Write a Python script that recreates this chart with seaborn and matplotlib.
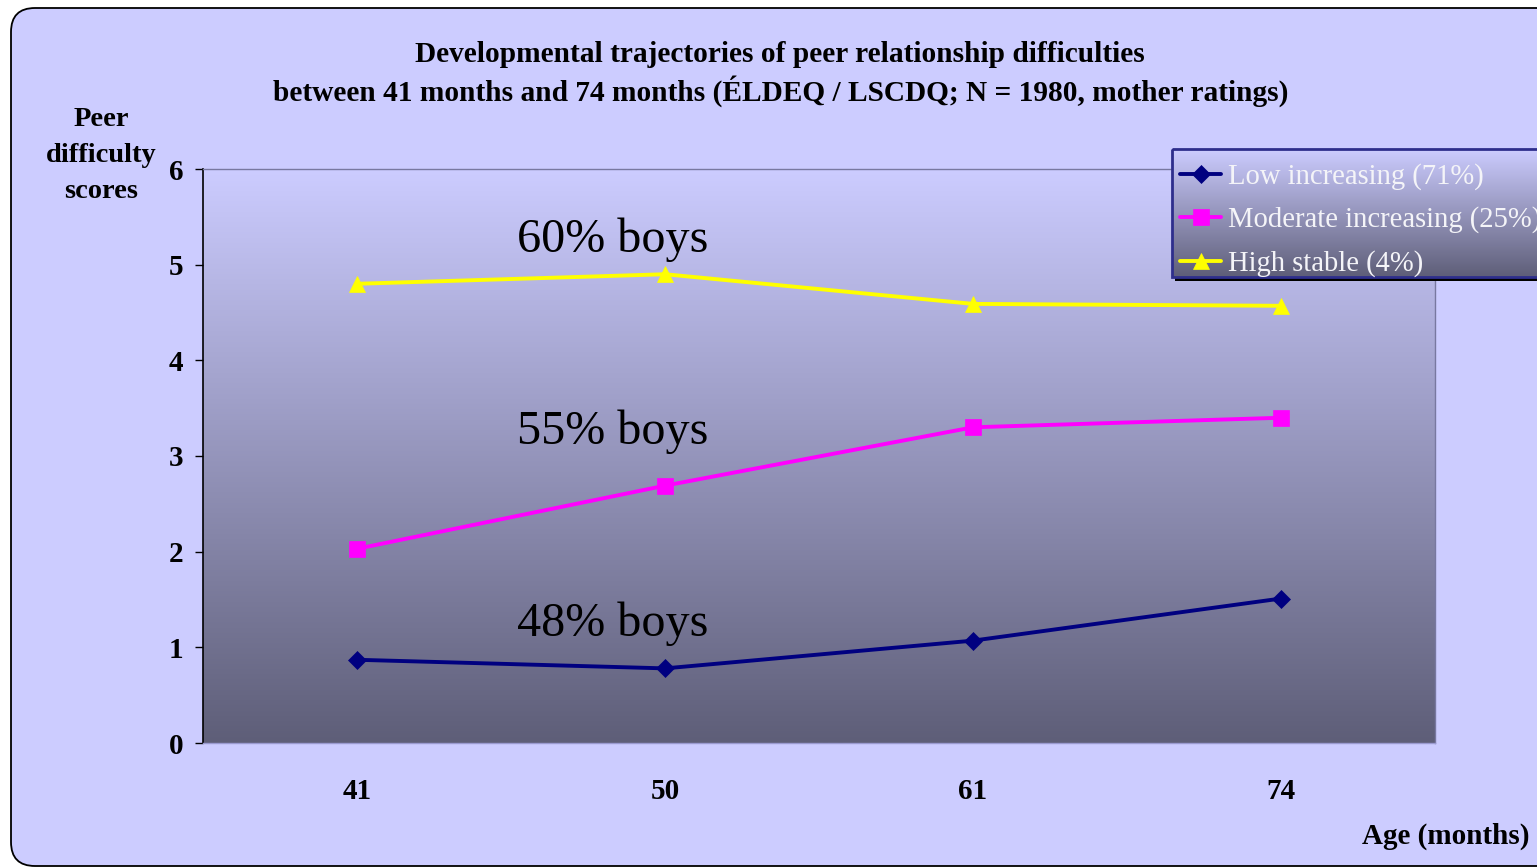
import numpy as np
import pandas as pd
import matplotlib
matplotlib.use("Agg")
import matplotlib.pyplot as plt
from matplotlib.lines import Line2D
from matplotlib.patches import FancyBboxPatch, Rectangle
import seaborn as sns

# ---- data -------------------------------------------------------------
ages = ["41", "50", "61", "74"]
low_increasing = [0.87, 0.78, 1.07, 1.51]
moderate_increasing = [2.03, 2.69, 3.30, 3.40]
high_stable = [4.80, 4.90, 4.59, 4.57]

group_labels = ["Low increasing (71%)", "Moderate increasing (25%)", "High stable (4%)"]
boys_labels = ["48% boys", "55% boys", "60% boys"]
boys_label_y = [1.25, 3.25, 5.26]
y_ticks = [0, 1, 2, 3, 4, 5, 6]

title_lines = ["Developmental trajectories of peer relationship difficulties",
               "between 41 months and 74 months (ÉLDEQ / LSCDQ; N = 1980, mother ratings)"]
y_label_lines = ["Peer", "difficulty", "scores"]
x_label = "Age (months)"

# ---- styling ----------------------------------------------------------
colors = ["#000080", "#FF00FF", "#FFFF00"]
markers = ["D", "s", "^"]
marker_sizes = [9.0, 11.0, 11.5]

sns.set_theme(style="white")
plt.rcParams["font.family"] = ["Liberation Serif", "DejaVu Serif"]
for key in ("text.color", "axes.labelcolor", "xtick.color", "ytick.color"):
    plt.rcParams[key] = "black"

W, H = 1537, 867
fig = plt.figure(figsize=(W / 100, H / 100), dpi=100, facecolor="white")

# rounded lavender panel behind everything (pixel coordinates)
bg = fig.add_axes([0, 0, 1, 1], zorder=0)
bg.set_xlim(0, W)
bg.set_ylim(H, 0)
bg.axis("off")
bg.add_patch(FancyBboxPatch((11, 8), 1600, 858,
                            boxstyle="round,pad=0,rounding_size=24",
                            facecolor="#CCCCFF", edgecolor="black", lw=1.3))

# ---- main plot ---------------------------------------------------------
ax = fig.add_axes([203 / W, 1 - 743 / H, (1435 - 203) / W, (743 - 169) / H], zorder=1)
ax.set_facecolor("none")

top_rgb = np.array([204, 204, 255]) / 255
bot_rgb = np.array([94, 94, 120]) / 255
t = np.linspace(0, 1, 256)[:, None]
grad = top_rgb[None, :] * (1 - t) + bot_rgb[None, :] * t
ax.imshow(grad[:, None, :], extent=(0, 1, 0, 1), transform=ax.transAxes,
          aspect="auto", zorder=0, interpolation="bilinear")

df = pd.DataFrame({
    "age": ages * 3,
    "score": low_increasing + moderate_increasing + high_stable,
    "group": sum([[g] * len(ages) for g in group_labels], []),
})

sns.pointplot(data=df, x="age", y="score", hue="group", order=ages,
              hue_order=group_labels, palette=colors, markers=markers,
              linestyles="-", errorbar=None, ax=ax, legend=False,
              linewidth=2.8, markersize=9)

series_lines = [ln for ln in ax.lines if ln.get_marker() not in (None, "None", "")]
for ln, ms in zip(series_lines, marker_sizes):
    ln.set_markersize(ms)
    ln.set_markeredgewidth(0.5)
    ln.set_zorder(3)

for txt, yv in zip(boys_labels, boys_label_y):
    ax.text(0.83, yv, txt, ha="center", va="center", fontsize=34.7,
            color="black", zorder=4)

ax.set_xlim(-0.5, len(ages) - 0.5)
ax.set_ylim(0, 6)
ax.set_yticks(y_ticks)
ax.set_xlabel("")
ax.set_ylabel("")
ax.tick_params(axis="y", direction="out", length=6, width=1, color="black",
               pad=8, labelsize=21, left=True)
ax.tick_params(axis="x", length=0, pad=25, labelsize=21)
for lab in ax.get_xticklabels() + ax.get_yticklabels():
    lab.set_fontweight("bold")

ax.spines["left"].set_color("black")
ax.spines["left"].set_linewidth(1.2)
for side in ("top", "right"):
    ax.spines[side].set_color("#7878A0")
    ax.spines[side].set_linewidth(1.0)
ax.spines["bottom"].set_color("#9A9AD0")
ax.spines["bottom"].set_linewidth(1.0)

# ---- titles and axis captions ------------------------------------------
fig.text(780 / W, 1 - 55 / H, title_lines[0], ha="center", va="center",
         fontsize=21.2, fontweight="bold")
fig.text(781 / W, 1 - 91 / H, title_lines[1], ha="center", va="center",
         fontsize=21.2, fontweight="bold")
for i, line in enumerate(y_label_lines):
    fig.text(101 / W, 1 - (119 + 36 * i) / H, line, ha="center", va="center",
             fontsize=20.5, fontweight="bold")
fig.text(1530 / W, 1 - 836 / H, x_label, ha="right", va="center",
         fontsize=21, fontweight="bold")

# ---- legend with its own gradient box ----------------------------------
ov = fig.add_axes([0, 0, 1, 1], zorder=3)
ov.set_facecolor("none")
ov.axis("off")
lx0, ly0, lx1, ly1 = 1172, 149, 1600, 277
ov.add_patch(Rectangle((lx0 + 3, ly0 + 4), lx1 - lx0, ly1 - ly0,
                       facecolor="black", edgecolor="none", zorder=1))
ov.imshow(grad[:, None, :], extent=(lx0, lx1, ly1, ly0), aspect="auto",
          zorder=2, interpolation="bilinear")
ov.add_patch(Rectangle((lx0, ly0), lx1 - lx0, ly1 - ly0, facecolor="none",
                       edgecolor="#2E2E8C", lw=2.0, zorder=3))
ov.set_xlim(0, W)
ov.set_ylim(H, 0)

handles = [Line2D([], [], color=c, marker=m, markersize=ms, lw=2.8,
                  markeredgewidth=0.5)
           for c, m, ms in zip(colors, markers, marker_sizes)]
leg = fig.legend(handles, group_labels, loc="upper left",
                 bbox_to_anchor=(1180 / W, 1 - 163 / H), frameon=False,
                 fontsize=20.6, handlelength=1.45, handletextpad=0.22,
                 labelspacing=0.58, borderpad=0, borderaxespad=0)
leg.set_zorder(10)
for txt in leg.get_texts():
    txt.set_color("#F4F4F8")

fig.savefig("out.png", dpi=100, facecolor="white")
